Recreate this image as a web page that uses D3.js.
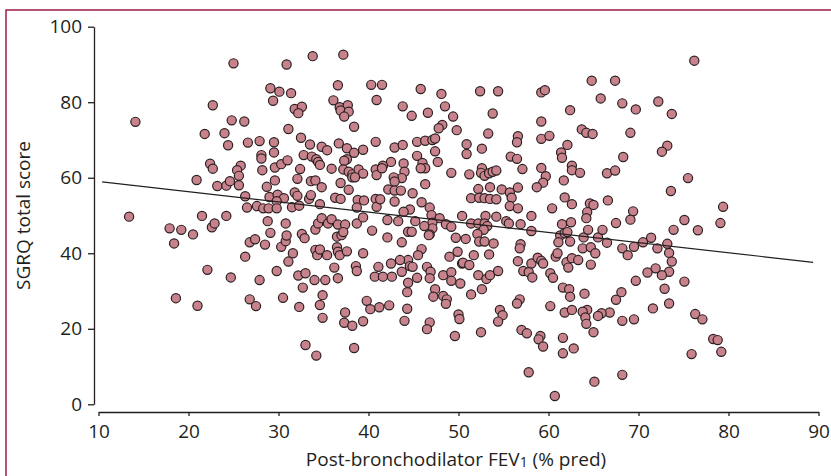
<!DOCTYPE html>
<html>
<head>
<meta charset="utf-8">
<script src="https://cdn.jsdelivr.net/npm/d3@7"></script>
<style>
  body { margin: 0; background: #fff; }
  text { font-family: "Open Sans", sans-serif; fill: #231f20; }
  .axis path, .axis line { stroke: #231f20; stroke-width: 1.3; }
  .axis text { font-size: 19px; }
  .axisTitle { font-size: 19px; }
</style>
</head>
<body>
<div id="scatter"></div>
<script>
// Post-bronchodilator FEV1 (% pred) for each patient
let fev1 = [
  14.1, 13.4, 17.9, 18.4, 18.6,
  25.0, 30.9, 33.8, 37.2, 29.1, 30.1, 31.4, 29.4, 36.6, 40.3,
  22.7, 31.8, 32.6, 32.2, 36.1, 36.8, 37.7, 36.9, 37.8, 37.3,
  40.9, 24.8, 26.2, 31.1, 38.4, 21.8, 24.0, 24.4, 26.6, 27.9,
  29.5, 29.5, 32.5, 33.5, 34.8, 35.4, 36.7, 37.6, 38.4, 39.4,
  40.8, 28.1, 28.1, 32.8, 33.7, 34.2, 34.4, 34.6, 37.6, 37.3,
  22.4, 22.7, 25.8, 25.4, 25.6, 28.2, 29.6, 30.3, 31.0, 32.4,
  32.1, 35.9, 37.2, 37.8, 38.2, 38.9, 39.4, 40.8, 40.9, 20.9,
  23.2, 24.2, 24.6, 25.6, 28.7, 29.6, 33.6, 34.1, 34.8, 36.9,
  37.8, 38.2, 38.5, 26.3, 29.0, 29.9, 30.6, 31.8, 32.1, 33.4,
  33.6, 34.6, 36.3, 36.9, 38.8, 39.5, 40.8, 26.5, 27.6, 28.3,
  28.9, 29.8, 29.8, 31.5, 32.3, 38.7, 40.9,
  21.5, 24.2, 19.2, 20.5, 22.6, 22.9, 28.8, 30.8, 29.1, 26.8,
  27.4, 28.5, 30.3, 30.8, 30.9, 32.6, 32.9, 34.1, 34.4, 34.8,
  35.5, 35.9, 36.6, 37.4, 36.5, 37.0, 37.2, 38.7, 39.4, 40.4,
  26.3, 31.6, 31.1, 34.1, 34.3, 34.6, 35.4, 36.5, 36.6, 36.8,
  37.6, 39.4, 22.1, 24.7, 27.9, 29.8, 32.2, 33.0, 34.0, 35.2,
  36.2, 36.6, 38.6, 38.7, 40.7, 41.1, 32.7, 34.9, 34.6, 34.9,
  21.0, 26.8, 27.5, 30.5, 32.3, 37.4, 37.3, 38.2, 39.4, 39.8,
  40.2, 41.2, 33.0, 34.2, 38.4,
  41.5, 45.8, 48.1, 52.4, 54.4, 59.2, 59.6, 43.8, 48.5, 44.8,
  46.6, 49.4, 53.8, 62.4, 59.2, 48.2, 47.8, 49.8, 53.3, 56.6,
  56.5, 59.2, 60.1, 62.1, 42.9, 43.8, 45.4, 46.3, 47.1, 47.4,
  50.9, 50.9, 52.6, 47.4, 47.7, 45.4, 46.0, 46.3, 45.8, 55.8,
  56.5, 61.4, 61.5, 42.5, 41.6, 41.5, 43.9, 44.0, 43.7, 42.8,
  42.9, 49.2, 51.2, 52.6, 52.5, 52.9, 53.4, 53.8, 54.2, 57.1,
  59.2, 59.7, 59.4, 58.7, 62.6, 62.6, 61.7, 46.3, 42.2, 42.9,
  43.6, 44.9, 52.2, 53.5, 54.8, 55.7, 56.6, 51.4, 52.3, 52.9,
  53.5, 54.2, 55.9, 61.8, 62.6, 41.3, 42.9, 45.9, 55.7, 56.6,
  60.4, 46.8, 44.6, 43.9,
  47.0, 47.9, 50.4, 53.0, 54.2, 58.1, 42.1, 43.3, 45.2, 47.1,
  47.1, 46.2, 46.8, 48.6, 49.2, 51.4, 52.2, 52.9, 53.2, 52.8,
  52.1, 52.3, 52.9, 53.9, 55.3, 55.6, 56.9, 58.1, 61.5, 62.5,
  61.3, 61.8, 62.1, 61.1, 62.4, 42.1, 43.7, 44.4, 44.8, 46.7,
  49.7, 50.8, 56.9, 56.8, 45.9, 45.5, 44.4, 43.5, 42.5, 44.6,
  44.9, 43.7, 42.6, 41.6, 49.9, 49.0, 51.7, 53.4, 50.4, 50.5,
  51.2, 46.5, 46.9, 46.8, 45.4, 48.3, 49.2, 49.2, 50.2, 52.2,
  53.1, 53.5, 54.4, 56.6, 58.1, 58.8, 59.2, 59.4, 57.2, 57.8,
  58.2, 60.8, 61.0, 62.0, 62.2, 62.6, 60.2, 60.5, 44.4, 44.3,
  47.4, 47.2, 48.3, 48.7, 48.6, 51.4, 52.6, 56.8, 56.5, 61.6,
  62.3, 62.4, 42.3, 44.3, 60.2, 61.8, 62.6, 44.0, 46.8, 46.5,
  50.0, 50.1, 54.6, 54.9, 54.4, 49.6, 52.5, 57.0, 57.6, 59.1,
  58.9, 59.4, 61.6, 61.6, 62.8, 57.8, 60.7,
  63.9, 65.5, 66.5, 63.8, 64.7, 65.2, 68.2, 68.8, 69.5, 70.5,
  71.4, 72.1, 73.2, 73.4, 73.7, 63.3, 64.7, 73.4, 72.6, 71.9,
  71.0, 69.7, 75.1, 72.9, 68.1, 67.5, 73.4, 71.6, 64.0, 66.8,
  65.9, 65.5, 64.3, 63.8, 64.1, 64.2, 68.2, 69.5, 76.3, 77.1,
  65.0, 78.3, 78.8, 79.2, 75.9, 68.2, 65.1, 76.2, 64.8, 67.4,
  65.8, 68.2, 69.7, 72.2, 73.7, 63.7, 64.2, 64.9, 69.1, 68.3,
  73.2, 72.6, 63.5, 66.5, 67.4, 75.5, 73.6, 64.6, 65.0, 64.3,
  64.2, 66.6, 69.4, 69.1, 67.5, 79.4, 79.1, 75.1, 73.9, 76.6,
  64.4, 66.0
];

// SGRQ total score for each patient (same order)
let sgrq = [
  74.8, 49.7, 46.6, 42.6, 28.1,
  90.3, 90.0, 92.2, 92.6, 83.7, 82.8, 82.4, 80.4, 84.5, 84.6,
  79.2, 78.2, 78.8, 77.1, 80.5, 78.7, 79.2, 77.8, 77.5, 76.2,
  80.6, 75.2, 74.9, 72.9, 73.5, 71.6, 71.8, 68.6, 69.3, 69.7,
  69.4, 66.7, 70.6, 68.8, 68.2, 67.3, 69.1, 67.8, 66.6, 67.4,
  69.5, 66.0, 65.1, 66.0, 65.6, 64.9, 64.2, 63.4, 64.9, 64.5,
  63.7, 62.4, 63.2, 62.0, 60.5, 62.0, 62.7, 63.6, 64.6, 62.3,
  59.7, 62.4, 62.2, 61.6, 60.9, 62.2, 61.1, 62.2, 60.7, 59.4,
  57.8, 57.9, 59.1, 58.0, 57.6, 59.3, 59.1, 59.3, 57.5, 58.6,
  56.8, 60.1, 60.1, 55.1, 54.9, 55.5, 54.6, 56.1, 55.2, 54.4,
  55.4, 53.0, 54.7, 54.4, 54.1, 54.0, 54.4, 52.1, 52.5, 51.9,
  51.9, 53.8, 51.9, 52.2, 52.6, 52.1, 52.3,
  49.9, 49.9, 46.2, 45.0, 46.9, 47.9, 48.5, 47.9, 45.4, 42.9,
  43.7, 42.3, 41.7, 43.2, 44.7, 45.1, 44.0, 46.3, 47.9, 49.3,
  47.9, 49.0, 47.6, 47.6, 44.4, 44.8, 45.6, 47.9, 49.5, 46.0,
  39.1, 40.0, 37.8, 40.9, 39.5, 41.0, 39.5, 41.6, 40.4, 39.5,
  40.5, 40.0, 35.6, 33.6, 32.9, 35.3, 34.1, 34.7, 32.9, 32.9,
  36.2, 33.4, 36.6, 35.3, 33.8, 36.4, 30.9, 28.9, 26.3, 22.9,
  26.1, 27.8, 26.0, 28.2, 25.8, 24.3, 21.6, 20.8, 22.0, 27.4,
  25.2, 25.7, 15.7, 12.9, 14.9,
  84.6, 83.5, 82.2, 82.9, 82.9, 82.6, 83.2, 78.9, 78.9, 76.4,
  77.2, 76.2, 77.0, 77.9, 74.9, 74.0, 73.1, 72.6, 71.7, 71.0,
  69.4, 70.3, 71.1, 68.7, 68.0, 68.7, 69.5, 69.8, 70.0, 70.4,
  68.9, 66.3, 67.7, 67.0, 64.2, 65.8, 63.9, 62.5, 62.5, 65.6,
  65.0, 66.7, 65.3, 64.2, 63.2, 62.5, 63.8, 61.6, 59.9, 60.1,
  59.0, 61.3, 60.9, 62.5, 61.3, 60.5, 61.2, 61.6, 61.9, 62.3,
  62.6, 60.4, 58.7, 57.5, 63.2, 62.0, 59.3, 58.3, 56.9, 56.6,
  56.6, 55.9, 57.0, 57.5, 56.9, 56.1, 57.4, 54.6, 54.7, 54.6,
  54.4, 54.3, 54.7, 54.8, 53.0, 54.3, 53.7, 53.5, 52.5, 51.9,
  51.9, 52.1, 51.6, 51.0,
  50.1, 49.3, 49.9, 49.9, 49.7, 49.9, 48.8, 48.5, 48.5, 48.1,
  46.6, 47.2, 45.0, 47.7, 47.0, 47.9, 47.9, 47.9, 47.2, 46.2,
  45.1, 43.1, 43.1, 42.6, 48.5, 47.9, 47.7, 45.9, 47.7, 48.2,
  44.7, 45.3, 45.6, 42.9, 43.1, 44.2, 42.9, 45.7, 45.7, 44.8,
  44.1, 43.8, 42.4, 41.3, 41.1, 39.5, 38.2, 38.2, 37.3, 36.6,
  36.4, 35.1, 33.8, 33.8, 40.4, 39.1, 39.5, 39.7, 37.3, 37.5,
  36.9, 36.4, 35.1, 33.4, 33.5, 34.2, 35.0, 32.7, 32.0, 34.2,
  33.2, 34.2, 35.3, 37.9, 37.3, 38.8, 38.0, 37.3, 35.3, 35.0,
  33.6, 39.1, 40.0, 37.6, 36.2, 38.7, 34.7, 33.5, 32.2, 29.7,
  30.5, 28.5, 28.7, 27.8, 26.6, 29.1, 30.5, 27.8, 26.7, 30.9,
  30.5, 28.5, 26.2, 25.3, 26.0, 24.3, 25.0, 22.1, 21.7, 19.9,
  23.8, 22.6, 25.0, 23.6, 21.9, 18.1, 19.1, 19.7, 18.8, 18.1,
  17.2, 15.3, 17.6, 13.5, 14.8, 8.5, 2.2,
  44.2, 44.2, 42.8, 41.3, 41.6, 40.0, 41.3, 39.5, 41.7, 42.9,
  44.1, 41.3, 42.5, 40.1, 37.8, 38.2, 37.0, 35.1, 34.2, 36.0,
  34.9, 32.7, 32.5, 30.6, 29.7, 27.7, 26.7, 25.4, 29.3, 24.3,
  24.1, 23.4, 25.0, 24.5, 23.0, 21.3, 22.1, 22.5, 23.9, 22.5,
  19.1, 17.3, 17.0, 13.9, 13.3, 7.8, 6.0, 91.0, 85.7, 85.7,
  81.0, 79.7, 78.1, 80.2, 76.9, 72.8, 71.9, 71.6, 71.9, 65.5,
  68.5, 66.9, 61.3, 61.2, 61.9, 59.9, 56.5, 53.2, 52.8, 50.9,
  49.3, 54.0, 51.1, 48.9, 48.0, 52.3, 48.0, 48.8, 46.2, 46.1,
  46.2, 46.2
];

// Fitted regression line end points
let fitX = [10.4, 89.4];
let fitY = [58.9, 37.6];

let xTicks = [10, 20, 30, 40, 50, 60, 70, 80, 90];
let yTicks = [0, 20, 40, 60, 80, 100];

let svgWidth = 831;
let svgHeight = 476;

let svg = d3
    .select("#scatter")
    .append("svg")
    .attr("width", svgWidth)
    .attr("height", svgHeight);

// maroon frame on the top and left
svg.append("path")
    .attr("d", `M6,${svgHeight} V10 H${svgWidth}`)
    .attr("fill", "none")
    .attr("stroke", "#9b1d4b")
    .attr("stroke-width", 1.5);

let data = fev1.map((v, i) => ({ fev1: v, sgrq: sgrq[i] }));

let xScale = d3.scaleLinear().domain([10, 90]).range([98.5, 818.5]);
let yScale = d3.scaleLinear().domain([0, 100]).range([404.3, 26.7]);

// Axes
svg.append("g")
    .attr("class", "axis")
    .attr("transform", "translate(0, 412)")
    .call(d3.axisBottom(xScale).tickValues(xTicks).tickSize(4).tickSizeOuter(0).tickPadding(9))
    .call(g => g.selectAll("text").attr("fill", "#231f20"));

svg.append("g")
    .attr("class", "axis")
    .attr("transform", "translate(94, 0)")
    .call(d3.axisLeft(yScale).tickValues(yTicks).tickSize(6).tickSizeOuter(0).tickPadding(6))
    .call(g => g.selectAll("text").attr("fill", "#231f20"));

// Points
svg.append("g")
    .selectAll("circle")
    .data(data)
    .enter()
    .append("circle")
    .attr("cx", d => xScale(d.fev1))
    .attr("cy", d => yScale(d.sgrq))
    .attr("r", 4.6)
    .attr("fill", "#c7828c")
    .attr("stroke", "#2b2022")
    .attr("stroke-width", 1.2);

// Regression line
let line = d3.line().x(d => xScale(d[0])).y(d => yScale(d[1]));
svg.append("path")
    .datum(fitX.map((v, i) => [v, fitY[i]]))
    .attr("d", line)
    .attr("fill", "none")
    .attr("stroke", "#231f20")
    .attr("stroke-width", 1.2);

// Axis titles
let xTitle = svg.append("text")
    .attr("class", "axisTitle")
    .attr("x", 456)
    .attr("y", 466)
    .attr("text-anchor", "middle");
xTitle.append("tspan").text("Post-bronchodilator FEV");
xTitle.append("tspan").attr("font-size", "14px").attr("dy", 1).text("1");
xTitle.append("tspan").attr("dy", -1).text(" (% pred)");

svg.append("text")
    .attr("class", "axisTitle")
    .attr("transform", "translate(30, 215.5) rotate(-90)")
    .attr("text-anchor", "middle")
    .text("SGRQ total score");
</script>
</body>
</html>
